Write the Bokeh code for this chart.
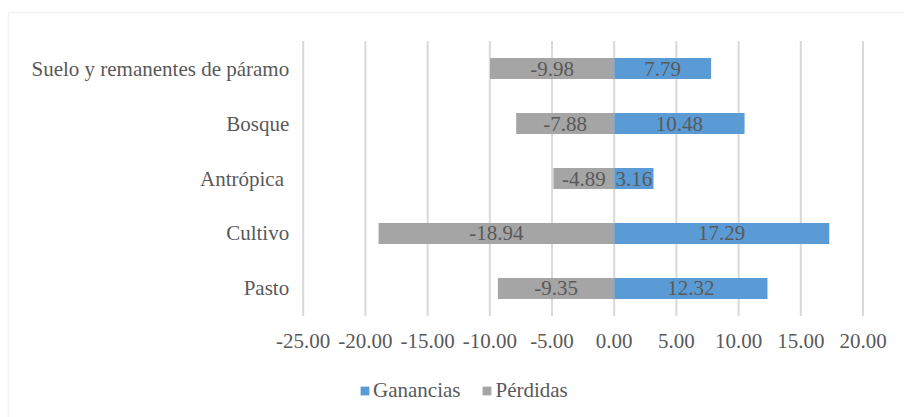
from bokeh.plotting import figure
from bokeh.models import (Range1d, ColumnDataSource, Legend, LegendItem, BoxAnnotation)
from bokeh.core.properties import value
from bokeh.embed import file_html
from bokeh.resources import INLINE

categories = ["Pasto", "Cultivo", "Antrópica ", "Bosque", "Suelo y remanentes de páramo"]
ganancias = [12.32, 17.29, 3.16, 10.48, 7.79]
perdidas = [-9.35, -18.94, -4.89, -7.88, -9.98]
x_ticks = [-25, -20, -15, -10, -5, 0, 5, 10, 15, 20]
x_tick_labels = [f"{t:.2f}" for t in x_ticks]

FONT = value("Liberation Serif")
TXT = "#595959"
FS = "21px"

ypos = list(range(len(categories)))
src = ColumnDataSource(dict(
    y=ypos,
    cat=categories,
    g=ganancias,
    p=perdidas,
    gmid=[v / 2 for v in ganancias],
    pmid=[v / 2 for v in perdidas],
    glab=[f"{v:.2f}" for v in ganancias],
    plab=[f"{v:.2f}" for v in perdidas],
    xcat=[x_ticks[0]] * len(categories),
))
tsrc = ColumnDataSource(dict(x=x_ticks, lab=x_tick_labels,
                             y0=[-0.5] * len(x_ticks), y1=[len(categories) - 0.5] * len(x_ticks)))

# frame covers the whole canvas; scales chosen so the plot area sits where the reference has it
p = figure(width=904, height=417, output_backend="svg", toolbar_location=None,
           x_range=Range1d(-49.333, 23.336), y_range=Range1d(-2.3455, 5.2364),
           x_axis_location=None, y_axis_location=None,
           min_border=0, min_border_left=0, min_border_right=0,
           min_border_top=0, min_border_bottom=0)
p.outline_line_color = None
p.grid.visible = False

# vertical gridlines
p.segment(x0="x", x1="x", y0="y0", y1="y1", source=tsrc,
          line_color="#d9d9d9", line_width=2)

r_g = p.hbar(y="y", left=0, right="g", height=0.38, source=src,
             fill_color="#5B9BD5", line_color=None)
r_p = p.hbar(y="y", left="p", right=0, height=0.38, source=src,
             fill_color="#A5A5A5", line_color=None)

# data labels
p.text(x="gmid", y="y", text="glab", source=src, text_align="center", text_baseline="middle",
       text_font=FONT, text_font_size=FS, text_color=TXT)
p.text(x="pmid", y="y", text="plab", source=src, text_align="center", text_baseline="middle",
       text_font=FONT, text_font_size=FS, text_color=TXT)

# category labels (y axis)
p.text(x="xcat", y="y", text="cat", source=src, x_offset=-14, text_align="right",
       text_baseline="middle", text_font=FONT, text_font_size=FS, text_color=TXT)

# x tick labels
p.text(x="x", y="y0", text="lab", source=tsrc, y_offset=25, text_align="center",
       text_baseline="middle", text_font=FONT, text_font_size=FS, text_color=TXT)

legend = Legend(items=[LegendItem(label="Ganancias", renderers=[r_g]),
                       LegendItem(label="Pérdidas", renderers=[r_p])],
                orientation="horizontal", location=(359, 14),
                label_text_font="Liberation Serif", label_text_font_size=FS, label_text_color=TXT,
                glyph_width=11, glyph_height=11, label_standoff=3, spacing=21,
                border_line_color=None, background_fill_alpha=0,
                margin=0, padding=4)
p.add_layout(legend)

border = BoxAnnotation(left=8, right=2000, top=12, bottom=2000,
                       left_units="canvas", right_units="canvas",
                       top_units="canvas", bottom_units="canvas",
                       fill_alpha=0, line_color="#d9d9d9", line_width=2, level="underlay")
p.add_layout(border)

open("out.html", "w").write(file_html(p, INLINE))
